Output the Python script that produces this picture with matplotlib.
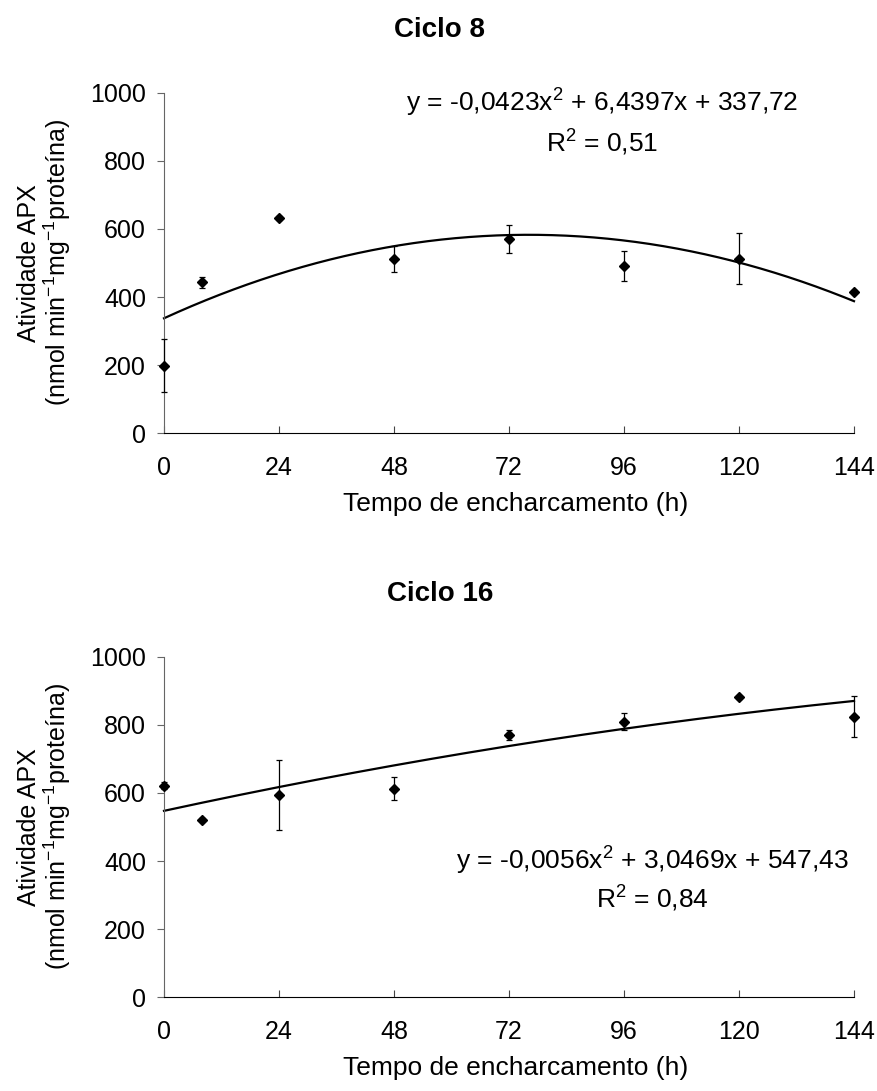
import numpy as np
import matplotlib
matplotlib.use('Agg')
import matplotlib.pyplot as plt

plt.rcParams['font.family'] = ['Liberation Sans', 'DejaVu Sans']
plt.rcParams['mathtext.default'] = 'regular'

# tempo de encharcamento (h)
horas = [0, 8, 24, 48, 72, 96, 120, 144]
ticks_x = [0, 24, 48, 72, 96, 120, 144]

# Ciclo 8
apx_c8 = [198, 443, 632, 511, 571, 490, 513, 416]
err_c8 = [78, 17, 5, 38, 41, 44, 74, 5]
coef_c8 = [-0.0423, 6.4397, 337.72]

# Ciclo 16
apx_c16 = [621, 522, 594, 613, 770, 809, 881, 824]
err_c16 = [10, 3, 104, 35, 15, 25, 5, 60]
coef_c16 = [-0.0056, 3.0469, 547.43]

titulos = ['Ciclo 8', 'Ciclo 16']
eq_linha1 = ['y = -0,0423x$^2$ + 6,4397x + 337,72', 'y = -0,0056x$^2$ + 3,0469x + 547,43']
eq_linha2 = ['R$^2$ = 0,51', 'R$^2$ = 0,84']

W, H = 878, 1091
fig = plt.figure(figsize=(W / 100, H / 100), dpi=100)

def fx(px):
    return px / W

def fy(py):
    return 1 - py / H

FS = 19
dy = 564  # deslocamento vertical do segundo painel (px)
eq_x = [602, 652]
eq_y = [(112, 152), (870, 908)]

dados = [(apx_c8, err_c8, coef_c8), (apx_c16, err_c16, coef_c16)]
for i, (vals, errs, coef) in enumerate(dados):
    top = 92.7 + i * dy
    bot = 433.3 + i * dy
    ax = fig.add_axes([fx(164), fy(bot), fx(854) - fx(164), fy(top) - fy(bot)])
    ax.errorbar(horas, vals, yerr=errs, fmt='D', color='black', ms=5.5,
                ecolor='black', elinewidth=0.9, capsize=2.5, capthick=0.9,
                clip_on=False, zorder=3)
    xs = np.linspace(0, 144, 200)
    ax.plot(xs, np.polyval(coef, xs), color='black', lw=1.6, clip_on=False)
    ax.set_xlim(0, 144)
    ax.set_ylim(0, 1000)
    ax.set_xticks(ticks_x)
    ax.set_yticks(range(0, 1001, 200))
    ax.spines['top'].set_visible(False)
    ax.spines['right'].set_visible(False)
    ax.spines['left'].set_color('#666666')
    ax.spines['bottom'].set_color('black')
    ax.tick_params(axis='y', labelsize=18, length=5, direction='out',
                   color='#666666', pad=8)
    ax.tick_params(axis='x', labelsize=18, length=5, direction='in',
                   color='#444444', pad=16)

    fig.text(fx(440), fy(37 + i * dy), titulos[i], ha='center', va='baseline',
             fontsize=20, fontweight='bold')
    fig.text(fx(516), fy(511 + i * dy), 'Tempo de encharcamento (h)',
             ha='center', va='baseline', fontsize=FS)
    fig.text(fx(45), fy((top + bot) / 2),
             'Atividade APX\n(nmol min$^{-1}$mg$^{-1}$prote\u00edna)',
             rotation=90, ha='center', va='center', multialignment='center',
             fontsize=18, linespacing=1.0)
    fig.text(fx(eq_x[i]), fy(eq_y[i][0]), eq_linha1[i], ha='center',
             va='baseline', fontsize=FS)
    fig.text(fx(eq_x[i]), fy(eq_y[i][1]), eq_linha2[i], ha='center',
             va='baseline', fontsize=FS)

fig.savefig('out.png', dpi=100)
